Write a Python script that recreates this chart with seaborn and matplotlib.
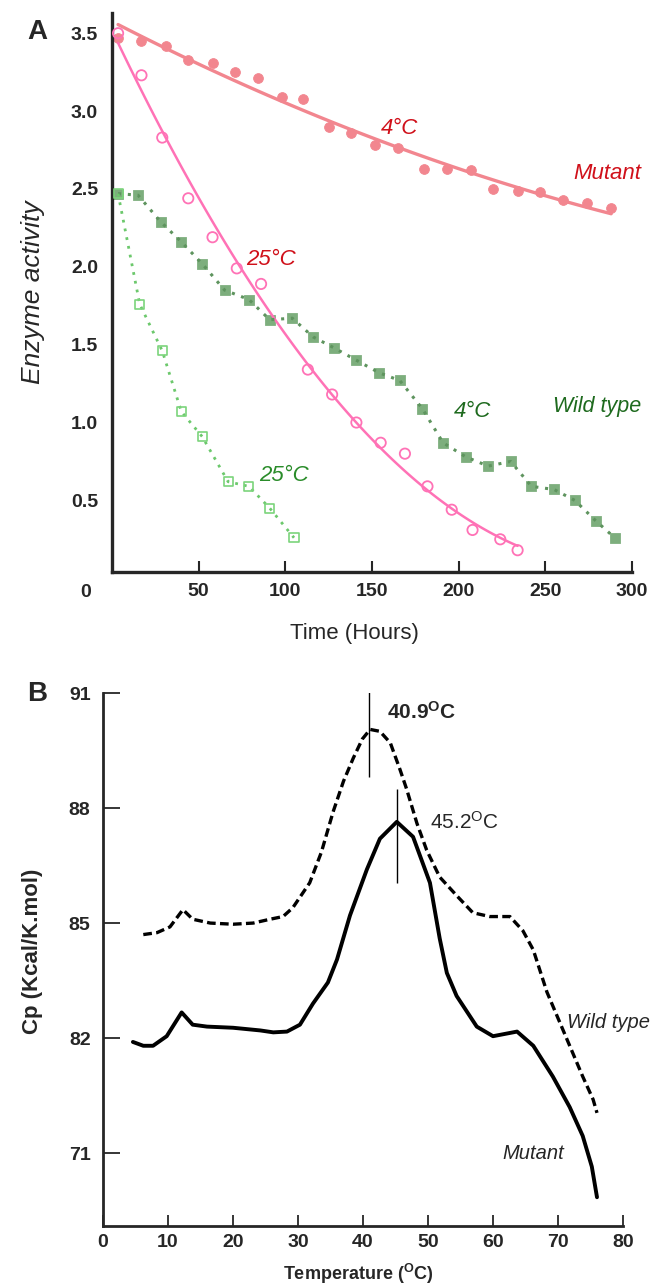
import numpy as np
import pandas as pd
import matplotlib
matplotlib.use('Agg')
import matplotlib.pyplot as plt
import seaborn as sns

sns.set_style('ticks')
plt.rcParams['font.family'] = ['Liberation Sans', 'DejaVu Sans']
plt.rcParams['mathtext.default'] = 'regular'

# Panel A: enzyme activity over time (hours)
mut4_t = [3.5, 17, 31, 44, 58, 71, 84, 98, 110, 125, 138, 152, 165, 180, 193, 207, 220, 234, 247, 260, 274, 288]
mut4_v = [3.47, 3.45, 3.42, 3.33, 3.31, 3.25, 3.21, 3.09, 3.08, 2.90, 2.86, 2.78, 2.76, 2.63, 2.63, 2.62,
          2.50, 2.49, 2.48, 2.43, 2.41, 2.38]

mut25_t = [3.5, 17, 29, 44, 58, 72, 86, 113, 127, 141, 155, 169, 182, 196, 208, 224, 234]
mut25_v = [3.50, 3.23, 2.83, 2.44, 2.19, 1.99, 1.89, 1.34, 1.18, 1.00, 0.87, 0.80, 0.59, 0.44, 0.31, 0.25, 0.18]

wt4_t = [3.5, 15, 28, 40, 52, 65, 79, 91, 104, 116, 128, 141, 154, 166, 179, 191, 204, 217, 230, 242, 255,
         267, 279, 290]
wt4_v = [2.47, 2.46, 2.29, 2.16, 2.02, 1.85, 1.79, 1.66, 1.67, 1.55, 1.48, 1.40, 1.32, 1.27, 1.09, 0.87, 0.78,
         0.72, 0.75, 0.59, 0.57, 0.50, 0.37, 0.26]

wt25_t = [3.5, 16, 29, 40, 52, 67, 79, 91, 105]
wt25_v = [2.47, 1.76, 1.46, 1.07, 0.91, 0.62, 0.59, 0.45, 0.26]

# Panel B: heat capacity vs temperature
mutB_T = [4.6, 6.2, 7.7, 9.8, 12.1, 13.8, 16, 20, 24.2, 26.2, 28.3, 30.3, 32.3, 34.6, 36, 38, 40.6, 42.6,
          45.2, 47.7, 50.3, 51.8, 52.9, 54.4, 57.5, 60, 63.7, 66.2, 69.2, 71.8, 73.8, 75.2, 76]
mutB_cp = [81.9, 81.8, 81.8, 82.05, 82.67, 82.35, 82.3, 82.27, 82.2, 82.15, 82.17, 82.35, 82.9, 83.45, 84.05,
           85.2, 86.4, 87.2, 87.64, 87.25, 86.05, 84.6, 83.7, 83.1, 82.3, 82.05, 82.17, 81.8, 81.0, 80.2, 79.45,
           78.65, 77.85]

wtB_T = [6.2, 8.3, 10.3, 12.3, 13.8, 16.5, 20, 23.1, 25.7, 27.7, 29.2, 31.8, 33.6, 35.4, 37, 38.5, 39.9, 41.1,
         42.6, 44.2, 45.7, 46.7, 48.3, 49.8, 51.8, 54.5, 56.9, 59.5, 62.6, 64.6, 66.2, 68.3, 70.3, 72.3, 73.8,
         75.4, 76]
wtB_cp = [84.7, 84.75, 84.9, 85.35, 85.1, 85.0, 84.97, 85.0, 85.1, 85.17, 85.4, 86.05, 86.85, 87.9, 88.7, 89.3,
          89.8, 90.05, 90.0, 89.7, 89.0, 88.5, 87.6, 86.9, 86.2, 85.7, 85.27, 85.17, 85.17, 84.8, 84.3, 83.2,
          82.4, 81.6, 81.0, 80.4, 80.05]

peaks = [40.9, 45.2]
b_yticks = [91, 88, 85, 82, 79]
b_yticklabels = ['91', '88', '85', '82', '71']

pink_fill = '#F2868F'
pink_open = '#FF72B6'
green_fill = '#7DAE7D'
green_open = '#7CD47C'
red_txt = '#D0101A'
green_txt = '#2A8C2A'
dkgreen_txt = '#1E6A1E'

fig = plt.figure(figsize=(6.67, 12.86), dpi=100)
axA = fig.add_axes([112/667, 1-572/1286, 520/667, 559/1286])
axB = fig.add_axes([103/667, 1-1226/1286, 520/667, 533/1286])

# ---- panel A
sns.regplot(x=mut4_t, y=mut4_v, order=2, ci=None, scatter=False, ax=axA,
            line_kws={'color': pink_fill, 'lw': 2.4}, truncate=True)
sns.scatterplot(x=mut4_t, y=mut4_v, ax=axA, color=pink_fill, s=50, edgecolor=pink_fill, marker='o')
sns.regplot(x=mut25_t, y=mut25_v, order=2, ci=None, scatter=False, ax=axA,
            line_kws={'color': pink_open, 'lw': 1.8}, truncate=True)
axA.scatter(mut25_t, mut25_v, s=55, facecolors='none', edgecolors=pink_open, linewidths=1.3, zorder=3)

sns.lineplot(x=wt4_t, y=wt4_v, ax=axA, color='#5E945E', lw=2.2, linestyle=(0, (1, 2.2)))
sns.scatterplot(x=wt4_t, y=wt4_v, ax=axA, color=green_fill, s=50, marker='s', edgecolor=green_fill)
sns.lineplot(x=wt25_t, y=wt25_v, ax=axA, color='#6CC86C', lw=2.0, linestyle=(0, (1, 2.2)))
axA.scatter(wt25_t, wt25_v, s=42, marker='s', facecolors='none', edgecolors=green_open, linewidths=1.2, zorder=3)

axA.set_xlim(0, 300)
axA.set_ylim(0.04, 3.63)
axA.set_xticks([50, 100, 150, 200, 250, 300])
axA.set_yticks([0.5, 1.0, 1.5, 2.0, 2.5, 3.0, 3.5])
axA.set_yticklabels(['0.5', '1.0', '1.5', '2.0', '2.5', '3.0', '3.5'])
axA.tick_params(axis='x', direction='in', length=8, width=1.5, pad=8, labelsize=14)
axA.tick_params(axis='y', length=0, pad=10, labelsize=14)
for lab in axA.get_xticklabels() + axA.get_yticklabels():
    lab.set_fontweight('bold')
sns.despine(ax=axA)
for sp in ['left', 'bottom']:
    axA.spines[sp].set_linewidth(2.4)
axA.text(-0.05, -0.036, '0', transform=axA.transAxes, ha='center', va='center', fontsize=14, fontweight='bold')
axA.set_xlabel('Time (Hours)', fontsize=16)
axA.xaxis.set_label_coords(0.467, -0.092)
axA.set_ylabel('Enzyme activity', fontsize=19, style='italic')
axA.yaxis.set_label_coords(-0.128, 0.50)

axA.text(166, 2.89, '4°C', color=red_txt, fontsize=16, style='italic', ha='center', va='center')
axA.text(286, 2.60, 'Mutant', color=red_txt, fontsize=16, style='italic', ha='center', va='center')
axA.text(92, 2.05, '25°C', color=red_txt, fontsize=16, style='italic', ha='center', va='center')
axA.text(208, 1.07, '4°C', color=dkgreen_txt, fontsize=16, style='italic', ha='center', va='center')
axA.text(280, 1.10, 'Wild type', color=dkgreen_txt, fontsize=15.5, style='italic', ha='center', va='center')
axA.text(99, 0.66, '25°C', color=green_txt, fontsize=16, style='italic', ha='center', va='center')
fig.text(37/667, 1-32/1286, 'A', fontsize=20, fontweight='bold', ha='center', va='center')

# ---- panel B
sns.lineplot(x=wtB_T, y=wtB_cp, ax=axB, color='black', lw=2.4, linestyle=(0, (2.6, 1.3)))
sns.lineplot(x=mutB_T, y=mutB_cp, ax=axB, color='black', lw=2.8)
axB.vlines(peaks[0], 88.8, 91.3, color='black', lw=1.0)
axB.vlines(peaks[1], 86.05, 88.5, color='black', lw=1.0)
axB.text(43.7, 90.5, '40.9$^{O}$C', fontsize=15, fontweight='bold', ha='left', va='center')
axB.text(50.3, 87.64, '45.2$^{O}$C', fontsize=15, ha='left', va='center')
axB.text(71.4, 82.4, 'Wild type', fontsize=14.5, style='italic', ha='left', va='center')
axB.text(61.5, 79.0, 'Mutant', fontsize=14.5, style='italic', ha='left', va='center')

axB.set_xlim(0, 80)
axB.set_ylim(77.1, 91)
axB.set_xticks(range(0, 81, 10))
axB.set_yticks(b_yticks)
axB.set_yticklabels(b_yticklabels)
axB.tick_params(axis='x', direction='in', length=8, width=1.3, pad=6, labelsize=14)
axB.tick_params(axis='y', direction='in', length=12, width=1.3, pad=9, labelsize=14)
for lab in axB.get_xticklabels() + axB.get_yticklabels():
    lab.set_fontweight('bold')
sns.despine(ax=axB)
for sp in ['left', 'bottom']:
    axB.spines[sp].set_linewidth(2.0)
axB.set_xlabel('Temperature ($^{O}$C)', fontsize=13, fontweight='bold')
axB.xaxis.set_label_coords(0.49, -0.068)
axB.set_ylabel('Cp (Kcal/K.mol)', fontsize=16, fontweight='bold')
axB.yaxis.set_label_coords(-0.115, 0.516)
fig.text(37/667, 1-694/1286, 'B', fontsize=20, fontweight='bold', ha='center', va='center')

fig.savefig('out.png', dpi=100)
